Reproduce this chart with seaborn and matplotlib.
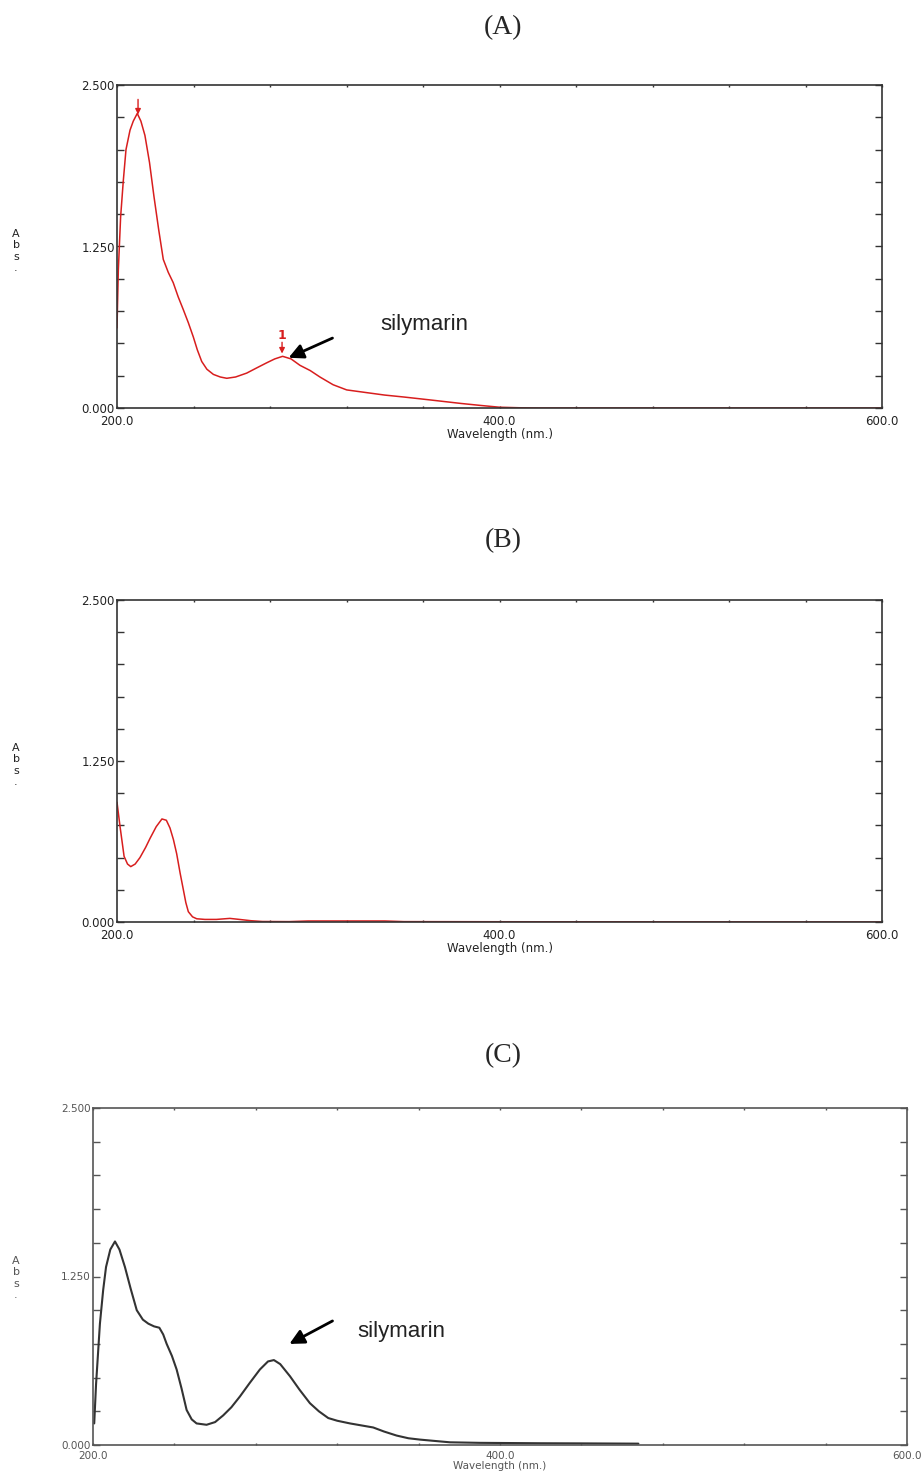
import numpy as np
import pandas as pd
import matplotlib
matplotlib.use("Agg")
import matplotlib.pyplot as plt
import seaborn as sns

# spectrum (A): silymarin standard, red trace
wl_a = [200.0, 200.7, 201.9, 203.3, 204.7, 206.8, 208.5, 210.6, 212.5, 214.6,
        217.0, 219.3, 221.8, 224.2, 226.8, 229.4, 232.0, 234.7, 237.3, 239.9,
        242.0, 244.3, 247.0, 250.4, 254.0, 257.4, 262.0, 267.8, 273.0, 278.3,
        282.5, 286.6, 291.0, 295.7, 301.0, 306.1, 313.0, 320.1, 330.0, 340.0,
        350.0, 364.0, 380.0, 390.0, 400.0, 410.0, 420.0, 600.0]
abs_a = [0.62, 1.07, 1.48, 1.76, 2.00, 2.15, 2.22, 2.28, 2.22, 2.11,
         1.90, 1.64, 1.38, 1.15, 1.05, 0.97, 0.86, 0.76, 0.66, 0.55,
         0.45, 0.36, 0.30, 0.26, 0.24, 0.23, 0.24, 0.27, 0.31, 0.35,
         0.38, 0.40, 0.38, 0.33, 0.29, 0.24, 0.18, 0.14, 0.12, 0.10,
         0.085, 0.062, 0.035, 0.02, 0.006, 0.002, 0.0, 0.0]

# spectrum (B): blank, red trace
wl_b = [200.0, 201.6, 203.7, 205.5, 207.2, 209.5, 212.0, 215.0, 217.3, 220.5,
        223.5, 225.8, 227.7, 229.5, 231.2, 233.0, 234.7, 236.0, 237.3, 239.5,
        241.7, 246.0, 252.0, 259.0, 264.0, 270.0, 276.0, 290.0, 300.0, 340.0,
        350.0, 400.0, 600.0]
abs_b = [0.93, 0.74, 0.51, 0.45, 0.43, 0.45, 0.50, 0.58, 0.65, 0.74,
         0.80, 0.79, 0.73, 0.64, 0.53, 0.38, 0.25, 0.15, 0.08, 0.04,
         0.025, 0.02, 0.02, 0.028, 0.02, 0.01, 0.004, 0.003, 0.008, 0.008,
         0.003, 0.002, 0.0]

# spectrum (C): sample, black trace
wl_c = [200.6, 201.5, 203.4, 205.0, 206.4, 208.5, 210.8, 213.0, 215.7, 218.5,
        221.5, 224.5, 227.2, 230.0, 232.6, 234.5, 236.2, 238.8, 241.1, 243.5,
        246.0, 248.5, 250.9, 255.8, 260.0, 264.0, 268.0, 272.2, 277.0, 282.0,
        286.0, 288.9, 292.0, 296.8, 301.5, 306.6, 311.0, 315.6, 320.0, 326.3,
        332.0, 337.7, 343.0, 349.2, 355.0, 360.7, 368.0, 375.4, 390.0, 400.0,
        420.0, 440.0, 468.0]
abs_c = [0.16, 0.45, 0.90, 1.15, 1.32, 1.45, 1.51, 1.45, 1.32, 1.16,
         1.00, 0.93, 0.90, 0.88, 0.87, 0.82, 0.75, 0.66, 0.56, 0.42,
         0.26, 0.19, 0.16, 0.15, 0.17, 0.22, 0.28, 0.36, 0.46, 0.56,
         0.62, 0.63, 0.60, 0.51, 0.41, 0.31, 0.25, 0.20, 0.18, 0.16,
         0.145, 0.13, 0.10, 0.07, 0.05, 0.04, 0.03, 0.02, 0.016, 0.015,
         0.013, 0.012, 0.01]

panel_titles = ["(A)", "(B)", "(C)"]
x_ticks = np.arange(200, 601, 40)
x_long = [280, 360, 440, 520]
y_ticks = np.arange(0, 2.51, 0.25)

sns.set_style("white")
plt.rcParams['font.family'] = ['DejaVu Sans']

W, H = 922, 1472
fig = plt.figure(figsize=(W / 100, H / 100), dpi=100)


def add_ax(left, top, right, bottom):
    return fig.add_axes([left / W, 1 - bottom / H, (right - left) / W, (bottom - top) / H])


def style_axes(ax, spine_col, txt_col, fs, xpad):
    ax.set_xlim(200, 600)
    ax.set_ylim(0, 2.5)
    ax.set_xticks(x_ticks)
    ax.set_xticklabels([f"{v:.1f}" if v in (200, 400, 600) else "" for v in x_ticks])
    ax.set_xticks(x_long, minor=True)
    ax.set_yticks(y_ticks)
    ax.set_yticklabels([f"{v:.3f}" if v in (0, 1.25, 2.5) else "" for v in y_ticks])
    ax.tick_params(axis='x', which='major', direction='in', length=1.5, width=1,
                   top=True, bottom=True, pad=xpad, labelsize=fs, labelcolor=txt_col,
                   color=spine_col)
    ax.tick_params(axis='x', which='minor', direction='in', length=3.5, width=1,
                   top=True, bottom=True, color=spine_col)
    ax.tick_params(axis='y', direction='in', length=5, width=1, left=True, right=True,
                   pad=1.5, labelsize=fs, labelcolor=txt_col, color=spine_col)
    for s in ax.spines.values():
        s.set_color(spine_col)
        s.set_linewidth(1.2)
    ax.set_xlabel("Wavelength (nm.)", fontsize=fs, color=txt_col, labelpad=0)
    ax.set_ylabel("")


# panel A
ax_a = add_ax(117, 85, 882, 408)
df_a = pd.DataFrame({"wl": wl_a, "abs": abs_a})
sns.lineplot(data=df_a, x="wl", y="abs", ax=ax_a, color="#d81e1e", lw=1.1, estimator=None)
style_axes(ax_a, "#333333", "#222222", 8.5, 5)
ax_a.annotate("", xy=(211.0, 2.25), xytext=(211.0, 2.41),
              arrowprops=dict(arrowstyle='-|>', color="#d81e1e", lw=1, mutation_scale=8))
ax_a.text(286.3, 0.56, "1", color="#d81e1e", fontsize=9, fontweight='bold', ha='center', va='center')
ax_a.annotate("", xy=(286.3, 0.40), xytext=(286.3, 0.53),
              arrowprops=dict(arrowstyle='-|>', color="#d81e1e", lw=1, mutation_scale=8))
ax_a.annotate("", xy=(288.4, 0.38), xytext=(314.0, 0.55),
              arrowprops=dict(arrowstyle='-|>', color="black", lw=2, mutation_scale=22))
ax_a.text(337.5, 0.65, "silymarin", fontsize=16, color="#222222", family="Liberation Sans",
          ha='left', va='center')

# panel B
ax_b = add_ax(117, 600, 882, 922)
df_b = pd.DataFrame({"wl": wl_b, "abs": abs_b})
sns.lineplot(data=df_b, x="wl", y="abs", ax=ax_b, color="#d81e1e", lw=1.1, estimator=None)
style_axes(ax_b, "#333333", "#222222", 8.5, 5)

# panel C
ax_c = add_ax(93, 1108, 907, 1445)
df_c = pd.DataFrame({"wl": wl_c, "abs": abs_c})
sns.lineplot(data=df_c, x="wl", y="abs", ax=ax_c, color="#333333", lw=1.5, estimator=None)
style_axes(ax_c, "#555555", "#555555", 7.5, 4)
ax_c.annotate("", xy=(295.3, 0.74), xytext=(318.9, 0.93),
              arrowprops=dict(arrowstyle='-|>', color="black", lw=2, mutation_scale=22))
ax_c.text(329.7, 0.84, "silymarin", fontsize=16, color="#222222", family="Liberation Sans",
          ha='left', va='center')

# stacked "Abs" labels and panel titles
for yc, col in [(251, "#222222"), (765, "#222222"), (1278, "#555555")]:
    fig.text(16 / W, 1 - yc / H, "A\nb\ns\n.", fontsize=8, color=col, ha='center',
             va='center', linespacing=1.15)
for t, yc in zip(panel_titles, [28, 541, 1056]):
    fig.text(503 / W, 1 - yc / H, t, fontsize=20, family="Liberation Serif",
             ha='center', va='center')

fig.savefig("out.png", dpi=100)
